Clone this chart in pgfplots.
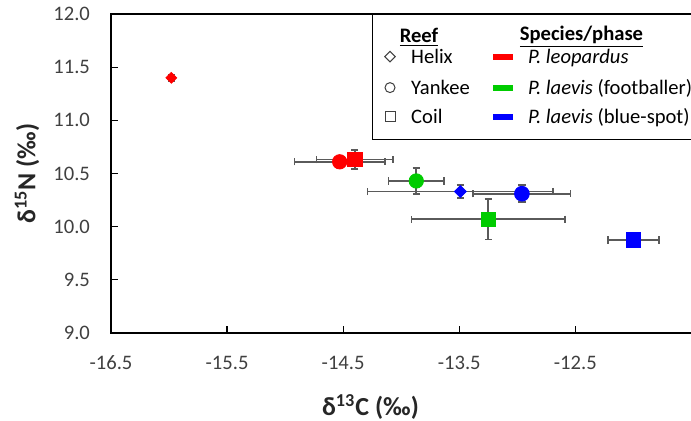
\documentclass[border=0pt]{standalone}
\usepackage{fontspec}
\setmainfont{Carlito}
\usepackage{pgfplots}
\usepackage{pgfplotstable}
\pgfplotsset{compat=1.18}
\definecolor{cRed}{HTML}{FF0000}
\definecolor{cGreen}{HTML}{00CC00}
\definecolor{cBlue}{HTML}{0000FF}
\definecolor{cErr}{HTML}{5A5A5A}
\definecolor{cTxt}{HTML}{404040}

% reef / species: d13C, d15N, sd(C), sd(N)
\pgfplotstableread{
x      y      ex    ey
-15.98 11.40  0.02  0.03
-14.53 10.61  0.39  0.03
-14.40 10.63  0.33  0.09
-13.87 10.43  0.24  0.12
-13.25 10.07  0.66  0.19
-13.49 10.33  0.80  0.06
-12.96 10.31  0.42  0.08
-12.00  9.875 0.22  0.03
}\iso

\pgfplotsset{pick/.style={restrict expr to domain={\coordindex}{#1:#1}}}

\begin{document}
\begin{tikzpicture}
\begin{axis}[
    at={(0pt,0pt)}, anchor=south west,
    scale only axis,
    width=296pt, height=159.5pt,
    xmin=-16.5, xmax=-11.4, ymin=9, ymax=12,
    xtick={-16.5,-15.5,-14.5,-13.5,-12.5},
    ytick={9,9.5,10,10.5,11,11.5,12},
    xtick pos=bottom, ytick pos=left,
    tick align=inside,
    major tick length=3.5pt,
    axis line style={black, line width=0.6pt},
    tick style={black, line width=0.6pt},
    /pgf/number format/assume math mode=true,
    /pgf/number format/.cd, fixed, fixed zerofill, precision=1, /pgfplots/.cd,
    tick label style={font=\fontsize{10.3}{12}\selectfont, text=cTxt},
    yticklabel style={xshift=-7pt},
    xticklabel style={yshift=-8pt},
    every axis x label/.style={at={(rel axis cs:0,0)}, xshift=129.75pt, yshift=-37pt, anchor=center},
    every axis y label/.style={at={(rel axis cs:0,0.5)}, xshift=-42pt, rotate=90, anchor=center},
    label style={font=\fontsize{13}{15}\selectfont\bfseries, text=black!85},
    xlabel={δ\textsuperscript{13}C (‰)},
    ylabel={δ\textsuperscript{15}N (‰)},
]
% error bars first, so that every marker lies on top
\addplot[only marks, mark=*, mark size=0.5pt, color=cErr, forget plot,
    error bars/.cd, x dir=both, y dir=both, x explicit, y explicit,
    error bar style={color=cErr, line width=0.8pt},
    error mark options={color=cErr, line width=0.8pt, mark size=1.8pt, rotate=90}]
    table[x=x, y=y, x error=ex, y error=ey] {\iso};
% markers
\addplot[only marks, mark=square*, mark size=1.9pt, mark options={rotate=45, fill=cRed, draw=cRed},
    pick=0] table[x=x,y=y] {\iso};
\addplot[only marks, mark=*, mark size=3.6pt, mark options={fill=cRed, draw=cRed},
    pick=1] table[x=x,y=y] {\iso};
\addplot[only marks, mark=square*, mark size=3.6pt, mark options={fill=cRed, draw=cRed},
    pick=2] table[x=x,y=y] {\iso};
\addplot[only marks, mark=*, mark size=3.6pt, mark options={fill=cGreen, draw=cGreen},
    pick=3] table[x=x,y=y] {\iso};
\addplot[only marks, mark=square*, mark size=3.6pt, mark options={fill=cGreen, draw=cGreen},
    pick=4] table[x=x,y=y] {\iso};
\addplot[only marks, mark=square*, mark size=2.1pt, mark options={rotate=45, fill=cBlue, draw=cBlue},
    pick=5] table[x=x,y=y] {\iso};
\addplot[only marks, mark=*, mark size=3.7pt, mark options={fill=cBlue, draw=cBlue},
    pick=6] table[x=x,y=y] {\iso};
\addplot[only marks, mark=square*, mark size=3.7pt, mark options={fill=cBlue, draw=cBlue},
    pick=7] table[x=x,y=y] {\iso};
\end{axis}

% legend box
\draw[black, line width=0.6pt] (130.9pt,159.5pt) -- (130.9pt,96.85pt) -- (300pt,96.85pt);
\begin{scope}[every node/.style={font=\fontsize{10.3}{12}\selectfont, text=black, inner sep=0pt}]
\node at (154pt,148pt) {\underline{\textbf{Reef}}};
\node at (235.25pt,148pt) {\underline{\textbf{Species/phase}}};
\draw[cTxt, line width=0.5pt] (139.5pt,138.2pt) +(0,2.6pt) -- +(2.6pt,0) -- +(0,-2.6pt) -- +(-2.6pt,0) -- cycle;
\draw[cTxt, line width=0.5pt] (139.5pt,122.7pt) circle (2.5pt);
\draw[cTxt, line width=0.5pt] (137pt,105.7pt) rectangle (142pt,110.7pt);
\node[anchor=base west] at (149.9pt,134.9pt) {Helix};
\node[anchor=base west] at (149.9pt,119.4pt) {Yankee};
\node[anchor=base west] at (149.9pt,104.9pt) {Coil};
\fill[cRed]   (190.8pt,136.7pt) rectangle (200.8pt,139.7pt);
\fill[cGreen] (190.8pt,121.2pt) rectangle (200.8pt,124.2pt);
\fill[cBlue]  (190.8pt,106.7pt) rectangle (200.8pt,109.7pt);
\node[anchor=base west] at (208.3pt,134.9pt) {\textit{P. leopardus}};
\node[anchor=base west] at (208.3pt,119.4pt) {\textit{P. laevis} (footballer)};
\node[anchor=base west] at (208.3pt,104.9pt) {\textit{P. laevis} (blue-spot)};
\end{scope}

\pgfresetboundingbox
\path[use as bounding box] (-55.5pt,-43.5pt) rectangle (290pt,166.5pt);
\end{tikzpicture}
\end{document}
